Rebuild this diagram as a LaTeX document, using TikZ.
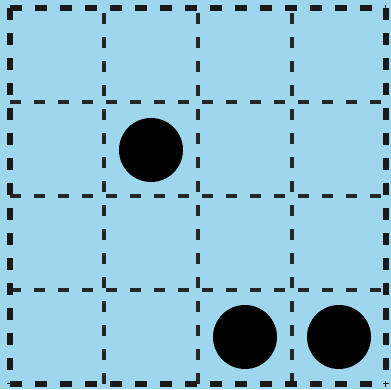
\documentclass[tikz,border=0pt]{standalone}
\definecolor{skyfill}{RGB}{158,214,237}
\tikzset{
  gridline/.style={line width=3.2pt, dash pattern=on 11pt off 13pt, color=black!85},
  outerline/.style={line width=5.5pt, dash pattern=on 12pt off 13pt, color=black!90},
  stone/.style={circle, fill=black, minimum size=64pt, inner sep=0pt}
}
\begin{document}
\begin{tikzpicture}[x=1pt,y=1pt]
\fill[skyfill] (0,0) rectangle (391,389);
\useasboundingbox (0,0) rectangle (391,389);
% interior grid lines
\foreach \x in {104,198,292} \draw[gridline] (\x,5) -- (\x,381);
\foreach \y in {287,193,99} \draw[gridline] (10,\y) -- (386,\y);
% outer border
\draw[outerline] (10,381) -- (386,381);
\draw[outerline] (10,381) -- (10,5);
\draw[outerline] (10,5) -- (386,5);
\draw[outerline] (386,381) -- (386,5);
% stones
\node[stone] (s1) at (151,239) {};
\node[stone] (s2) at (245,52) {};
\node[stone] (s3) at (339,52) {};
\end{tikzpicture}
\end{document}
